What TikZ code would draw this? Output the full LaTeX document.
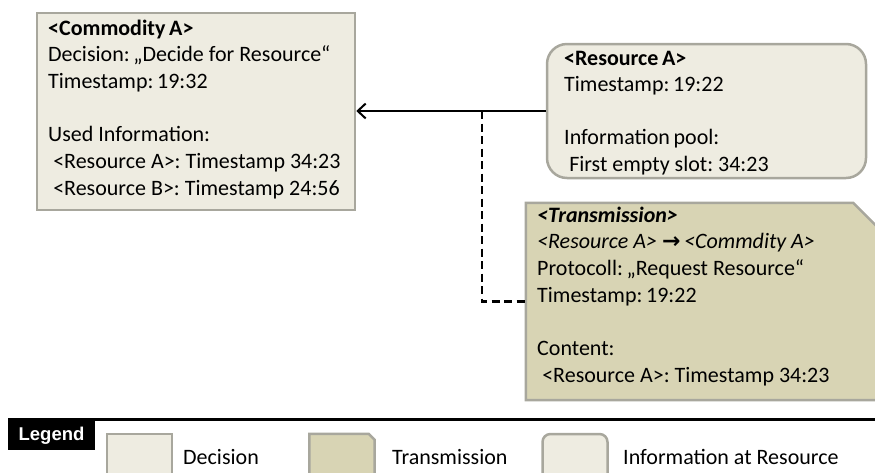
\documentclass[tikz,border=0pt]{standalone}
\usepackage{fontspec}
\setmainfont{Carlito}
\newfontfamily\legendfont{Liberation Sans}
\newfontfamily\symbolfont{DejaVu Sans}
\usetikzlibrary{arrows.meta}

\definecolor{paper}{HTML}{EEECE1}
\definecolor{tan}{HTML}{D8D4B4}
\definecolor{rim}{HTML}{A8A79D}

\begin{document}
\frenchspacing
\begin{tikzpicture}[x=1pt,y=-1pt,
  box/.style={draw=rim, line width=2.5pt, fill=paper, inner sep=0pt},
  ghost/.style={inner sep=0pt},
  txt/.style={anchor=north west, inner sep=0pt, align=left,
    font=\fontsize{22}{26.7}\selectfont},
  link/.style={line width=2pt, black},
  dashlink/.style={line width=2.2pt, black, dash pattern=on 8pt off 4.5pt},
  legtxt/.style={anchor=base west, inner sep=0pt,
    font=\fontsize{22}{26}\selectfont}]
\useasboundingbox (0,0) rectangle (875,472);

% decision of the commodity
\node[box, minimum width=318pt, minimum height=197pt] (com) at (196,111.5) {};
\node[txt] (comtxt) at (48,16.3) {\strut\textbf{<Commodity\,A>}\\
  Decision:\,„Decide for Resource“\\
  Timestamp:\,19:32\\[26.7pt]
  Used Information:\\
  \hspace*{0.23em}<Resource A>: Timestamp 34:23\\
  \hspace*{0.23em}<Resource B>: Timestamp 24:56};

% information held at the resource
\node[box, rounded corners=20pt, minimum width=319pt, minimum height=134pt] (res) at (706.5,111) {};
\node[txt] (restxt) at (564,46.3) {\strut\textbf{<Resource\,A>}\\
  Timestamp:\,19:22\\[26pt]
  Information\,pool:\\
  \hspace*{0.23em}First empty slot: 34:23};

% transmission message
\node[ghost, minimum width=352pt, minimum height=197pt] (trans) at (702,301.5) {};
\filldraw[draw=rim, line width=2.5pt, fill=tan]
  (trans.north west) -- ([xshift=-25pt]trans.north east)
  -- ([yshift=-25pt]trans.north east) -- (trans.south east)
  -- (trans.south west) -- cycle;
\node[txt] (transtxt) at (537,203.3) {\strut\textbf{\textit{<Transmission>}}\\
  \textit{<Resource A> {\symbolfont\bfseries\upshape →}\,<Commdity A>}\\
  Protocoll:\,„Request Resource“\\
  Timestamp:\,19:22\\[27pt]
  Content:\\
  \hspace*{0.23em}<Resource A>: Timestamp 34:23};

% connectors
\coordinate (jn) at (482,111);
\draw[link, -{Straight Barb[length=8pt, width=15pt, line width=2pt]}]
  (res.west) -- (res.west -| com.east);
\draw[dashlink] (jn) |- (trans.west);

% legend
\draw[line width=3.5pt] (8,419.5) -- (875,419.5);
\node[fill=black, text=white, inner sep=0pt, minimum width=87pt, minimum height=29pt,
  font=\legendfont\bfseries\fontsize{18.5}{20}\selectfont] (legend) at (51.5,435.5) {Legend};

\node[box, minimum width=65pt, minimum height=50pt] (swdec) at (139.5,459) {};
\node[legtxt] (lbldec) at (183,464) {Decision};

\node[ghost, minimum width=65pt, minimum height=50pt] (swtrans) at (342,459) {};
\filldraw[draw=rim, line width=2.5pt, fill=tan]
  (swtrans.north west) -- ([xshift=-6pt]swtrans.north east)
  -- ([yshift=-6pt]swtrans.north east) -- (swtrans.south east)
  -- (swtrans.south west) -- cycle;
\node[legtxt] (lbltrans) at (392,464) {Transmission};

\node[box, rounded corners=8pt, minimum width=65pt, minimum height=50pt] (swres) at (575,459) {};
\node[legtxt] (lblres) at (623,464) {Information at Resource};
\end{tikzpicture}
\end{document}
